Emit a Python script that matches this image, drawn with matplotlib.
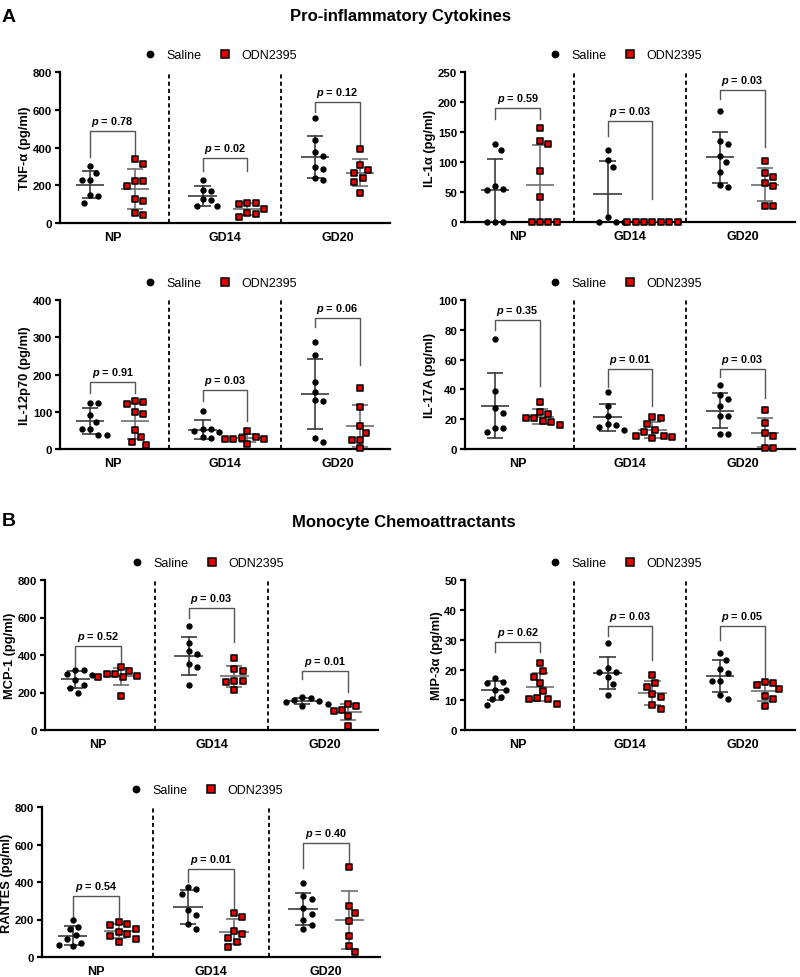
import numpy as np
import matplotlib
matplotlib.use('Agg')
import matplotlib.pyplot as plt
from matplotlib.lines import Line2D

plt.rcParams['font.family'] = ['Liberation Sans', 'DejaVu Sans']
plt.rcParams['mathtext.fontset'] = 'custom'
plt.rcParams['mathtext.it'] = 'Liberation Sans:italic:bold'
plt.rcParams['mathtext.rm'] = 'Liberation Sans:bold'

# ---------------- data ----------------
groups = ['NP', 'GD14', 'GD20']
series_names = ['Saline', 'ODN2395']

tnf_saline = [[300, 266, 230, 230, 148, 143, 108],
              [230, 175, 170, 125, 120, 92, 88],
              [560, 438, 378, 358, 295, 288, 240, 228]]
tnf_odn = [[341, 314, 225, 225, 195, 130, 116, 52, 40],
           [105, 104, 103, 73, 52, 50, 34],
           [393, 307, 282, 268, 241, 220, 161]]
tnf_p = ['0.78', '0.02', '0.12']
tnf_brackets = [[487, 352, 352], [343, 277, 277], [643, 589, 411]]

il1a_saline = [[131, 121, 60, 55, 54, 0, 0, 0],
               [120, 103, 92, 9, 0, 0, 0],
               [186, 135, 131, 110, 100, 84, 61, 59]]
il1a_odn = [[157, 136, 131, 85, 41, 0, 0, 0, 0],
            [0, 0, 0, 0, 0, 0, 0],
            [102, 82, 75, 65, 60, 27, 27]]
il1a_p = ['0.59', '0.03', '0.03']
il1a_brackets = [[190, 172, 172], [168, 144, 39], [220, 205, 126]]

il12_saline = [[124, 124, 90, 72, 54, 54, 38, 38],
               [103, 55, 54, 48, 46, 31, 29],
               [286, 252, 180, 154, 131, 129, 30, 18]]
il12_odn = [[129, 126, 120, 99, 93, 52, 32, 18, 12],
            [47, 33, 30, 28, 28, 27, 13],
            [165, 112, 61, 43, 25, 23, 3]]
il12_p = ['0.91', '0.03', '0.06']
il12_brackets = [[181, 151, 151], [159, 129, 75], [351, 327, 226]]

il17_saline = [[74, 38.7, 27.7, 24.2, 14.1, 14.1, 11.2],
               [38, 29, 22, 16.5, 16, 15, 13],
               [43, 36.5, 33.6, 28.6, 22.4, 22.4, 10, 10]]
il17_odn = [[31.3, 25.0, 23.7, 20.6, 20.6, 18.6, 17.9, 16.1],
            [21.7, 20.6, 16.8, 12.8, 11.5, 8.9, 8.9, 7.8, 7.2],
            [26.4, 17.4, 11, 9, 1, 1]]
il17_p = ['0.35', '0.01', '0.03']
il17_brackets = [[86.5, 80, 42], [54, 41.3, 29], [54, 48, 34]]

mcp1_saline = [[322, 318, 300, 295, 265, 240, 225, 200],
               [557, 466, 419, 403, 350, 336, 240],
               [178, 172, 162, 155, 150, 140, 128]]
mcp1_odn = [[335, 317, 301, 298, 287, 284, 282, 184],
            [382, 325, 313, 263, 263, 254, 212],
            [140, 130, 108, 100, 76, 20]]
mcp1_p = ['0.52', '0.03', '0.01']
mcp1_brackets = [[447, 344, 344], [650, 596, 468], [317, 273, 202]]

mip3a_saline = [[17.5, 16, 15.8, 13.5, 13.3, 11, 10.5, 8.5],
                [29, 20.6, 19.5, 19.4, 17.8, 15.5, 11.6],
                [25.7, 23.4, 20.3, 18.9, 16.4, 16.4, 11.7, 10.5]]
mip3a_odn = [[22.2, 19.6, 17.8, 15.6, 13.0, 10.6, 10.5, 10.4, 8.8],
             [18.3, 15.7, 14.4, 12, 11.1, 8.5, 7],
             [15.9, 15.7, 15.1, 13.7, 11.4, 10.2, 8.0]]
mip3a_p = ['0.62', '0.03', '0.05']
mip3a_brackets = [[29.4, 25.9, 25.9], [34.6, 31.4, 23.4], [34.8, 30.1, 17.6]]

rantes_saline = [[195, 160, 150, 115, 95, 75, 65, 60],
                 [373, 364, 338, 250, 225, 175, 150],
                 [395, 324, 311, 260, 230, 200, 170, 150]]
rantes_odn = [[188, 178, 172, 150, 135, 125, 110, 95, 80],
              [235, 215, 140, 125, 100, 80, 55],
              [480, 270, 235, 190, 110, 60, 25]]
rantes_p = ['0.54', '0.01', '0.40']
rantes_brackets = [[324, 215, 215], [471, 400, 260], [608, 476, 498]]

# ---------------- layout ----------------
W, H = 800, 978
fig = plt.figure(figsize=(W / 100, H / 100), dpi=100)

panels = [
    dict(label='TNF-α (pg/ml)', s=tnf_saline, o=tnf_odn, p=tnf_p, br=tnf_brackets,
         ymax=800, step=200, box=(60, 390, 73.3, 224)),
    dict(label='IL-1α (pg/ml)', s=il1a_saline, o=il1a_odn, p=il1a_p, br=il1a_brackets,
         ymax=250, step=50, box=(465, 795, 73.3, 223)),
    dict(label='IL-12p70 (pg/ml)', s=il12_saline, o=il12_odn, p=il12_p, br=il12_brackets,
         ymax=400, step=100, box=(60, 390, 301, 450)),
    dict(label='IL-17A (pg/ml)', s=il17_saline, o=il17_odn, p=il17_p, br=il17_brackets,
         ymax=100, step=20, box=(465, 795, 301, 450)),
    dict(label='MCP-1 (pg/ml)', s=mcp1_saline, o=mcp1_odn, p=mcp1_p, br=mcp1_brackets,
         ymax=800, step=200, box=(45, 378, 581, 731)),
    dict(label='MIP-3α (pg/ml)', s=mip3a_saline, o=mip3a_odn, p=mip3a_p, br=mip3a_brackets,
         ymax=50, step=10, box=(465, 795, 581, 731)),
    dict(label='RANTES (pg/ml)', s=rantes_saline, o=rantes_odn, p=rantes_p, br=rantes_brackets,
         ymax=800, step=200, box=(42, 380, 808, 958)),
]

RED = '#e60000'
group_pos = [0.0, 2.5, 5.0]
XL = (-0.667, 6.667)


def swarm(vals, xc, ppx, ppy, d=8.4):
    vals = np.asarray(vals, dtype=float)
    order = np.argsort(-vals, kind='stable')
    placed = []
    xs = np.zeros(len(vals))
    stepc = d / 3.0
    cands = [0.0]
    for m in range(1, 60):
        cands += [m * stepc, -m * stepc]
    for i in order:
        y = vals[i] * ppy
        for c in cands:
            if all((c - px) ** 2 + (y - py) ** 2 >= d * d * 0.95 for px, py in placed):
                break
        placed.append((c, y))
        xs[i] = xc + c / ppx
    return xs


for pn in panels:
    l, r, t, b = pn['box']
    ax = fig.add_axes([l / W, 1 - b / H, (r - l) / W, (b - t) / H])
    ymax = pn['ymax']
    ax.set_xlim(*XL)
    ax.set_ylim(0, ymax)
    ppx = (r - l) / (XL[1] - XL[0])
    ppy = (b - t) / ymax

    for gi, g0 in enumerate(group_pos):
        for k, vals in enumerate((pn['s'][gi], pn['o'][gi])):
            xc = g0 + k
            xs = swarm(vals, xc, ppx, ppy)
            v = np.asarray(vals, float)
            m = v.mean()
            sd = v.std(ddof=1)
            lc = '#3c3c3c' if k == 0 else '#707070'
            ax.plot([xc - 0.32, xc + 0.32], [m, m], color=lc, lw=1.2, zorder=3, solid_capstyle='butt')
            ax.plot([xc, xc], [m - sd, m + sd], color=lc, lw=1.2, zorder=3)
            for yy in (m - sd, m + sd):
                ax.plot([xc - 0.18, xc + 0.18], [yy, yy], color=lc, lw=1.2, zorder=3, solid_capstyle='butt')
            if k == 0:
                ax.scatter(xs, v, s=21, marker='o', color='black', zorder=5, clip_on=False, linewidths=0)
            else:
                ax.scatter(xs, v, s=24, marker='s', facecolor=RED, edgecolor='black',
                           linewidths=1.1, zorder=5, clip_on=False)
        # bracket
        top, lb, rb = pn['br'][gi]
        ax.plot([g0, g0, g0 + 1, g0 + 1], [lb, top, top, rb], color='#555555', lw=1.0, zorder=2)
        ax.annotate(r'$p$ = ' + pn['p'][gi], xy=(g0 + 0.5, top), xytext=(0, 7.2),
                    textcoords='offset points', ha='center', va='center',
                    fontsize=7.8, fontweight='bold')

    # separators
    ax.vlines([1.75, 4.25], 0, ymax, colors='black', linestyles=(0, (2.3, 1.7)), lw=1.3, zorder=1)

    for sp in ('top', 'right'):
        ax.spines[sp].set_visible(False)
    for sp in ('left', 'bottom'):
        ax.spines[sp].set_linewidth(1.6)
    ax.set_yticks(np.arange(0, ymax + 1e-9, pn['step']))
    ax.set_yticklabels([f'{int(v)}' for v in np.arange(0, ymax + 1e-9, pn['step'])])
    ax.tick_params(axis='y', length=3.6, width=1.6, pad=2, labelsize=8.2)
    ax.set_xticks([g + 0.5 for g in group_pos])
    ax.set_xticklabels(groups)
    ax.tick_params(axis='x', length=0, pad=6, labelsize=9)
    for lab in ax.get_xticklabels() + ax.get_yticklabels():
        lab.set_fontweight('bold')
    ax.set_ylabel(pn['label'], fontsize=9.3, fontweight='bold', labelpad=1)

    handles = [Line2D([], [], marker='o', ls='', color='black', markersize=4.6),
               Line2D([], [], marker='s', ls='', markerfacecolor=RED, markeredgecolor='black',
                      markeredgewidth=1.1, markersize=5.5)]
    ax.legend(handles, series_names, ncol=2, loc='center',
              bbox_to_anchor=(0.487, 1 + 17 / (b - t)), frameon=False, fontsize=9,
              handlelength=1.0, handletextpad=0.8, columnspacing=1.4, borderpad=0,
              borderaxespad=0)

fig.text(2 / W, 1 - 17 / H, 'A', fontsize=14, fontweight='bold', ha='left', va='center')
fig.text(0.5, 1 - 17 / H, 'Pro-inflammatory Cytokines', fontsize=12, fontweight='bold',
         ha='center', va='center')
fig.text(2 / W, 1 - 522 / H, 'B', fontsize=14, fontweight='bold', ha='left', va='center')
fig.text(403.5 / W, 1 - 522 / H, 'Monocyte Chemoattractants', fontsize=12, fontweight='bold',
         ha='center', va='center')

fig.savefig('out.png', dpi=100)
